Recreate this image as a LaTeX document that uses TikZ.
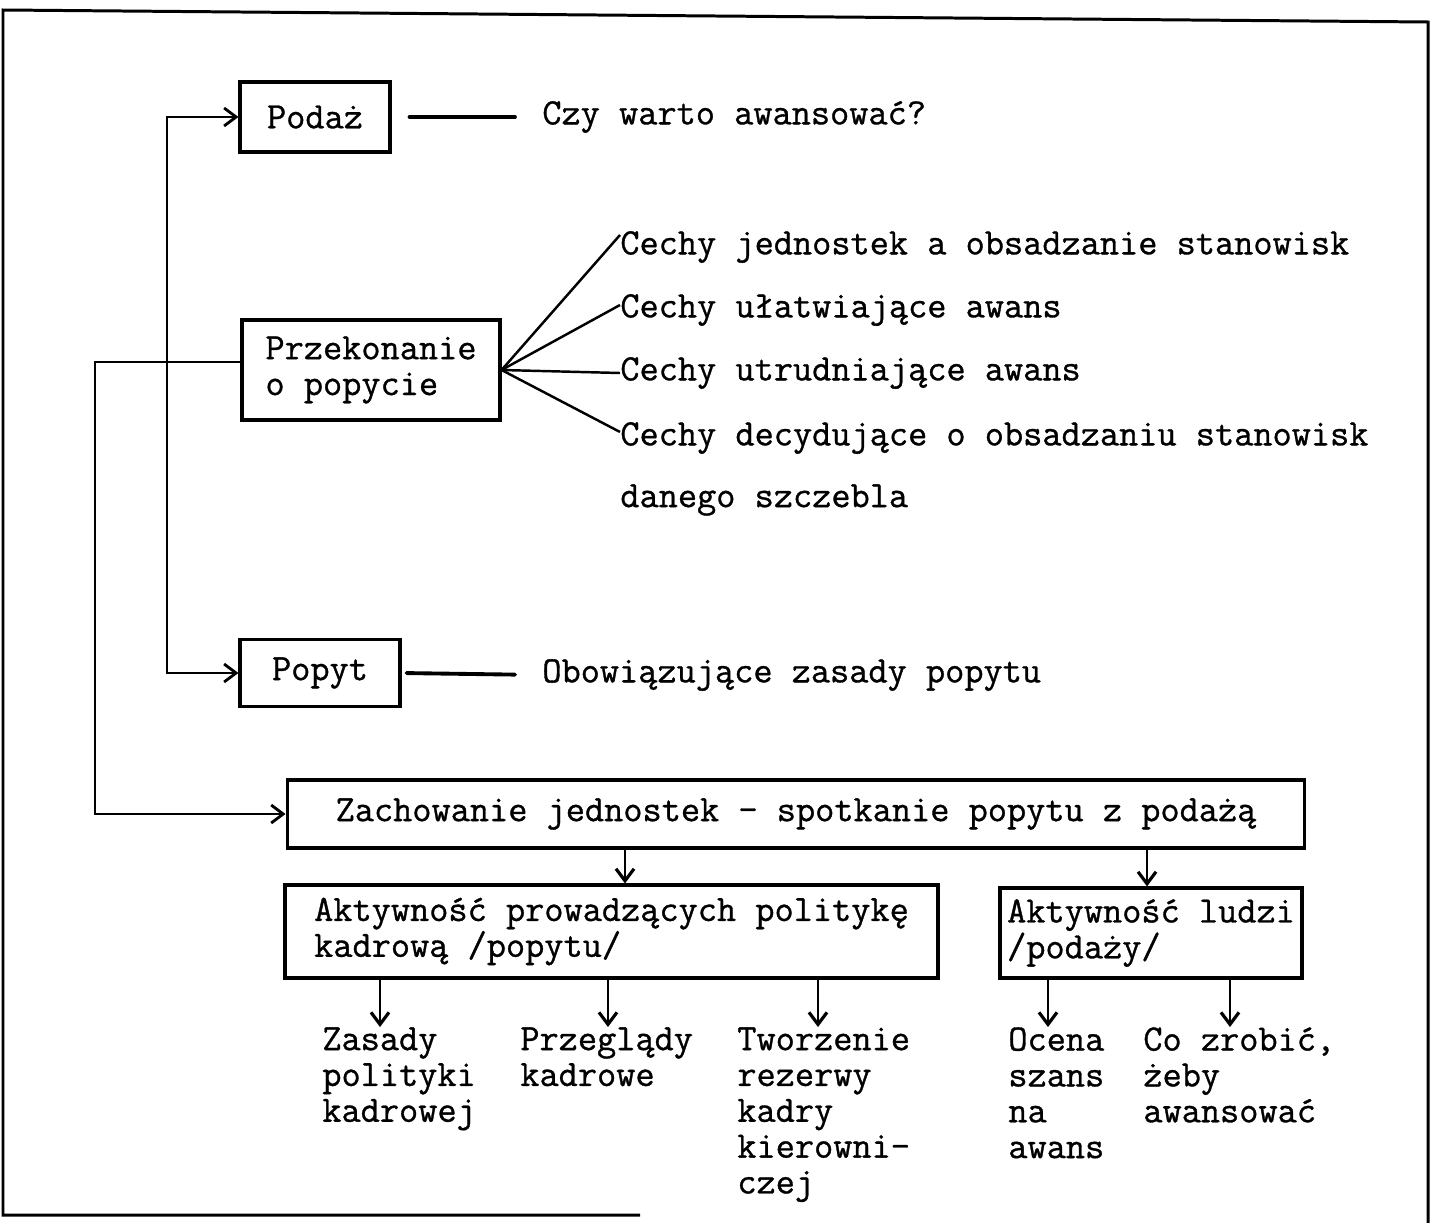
\documentclass[tikz,border=0pt]{standalone}
\usepackage{fontspec}
\usepackage{tikz}
\usetikzlibrary{arrows.meta, calc}
\newfontfamily\typewriter[FakeBold=0.9]{Latin Modern Mono}
\tikzset{
  box/.style={draw, line width=1.8pt, inner sep=0pt, align=left},
  lbl/.style={inner sep=0pt, align=left},
  arr/.style={line width=1.4pt, -{Straight Barb[length=2.4mm, width=3.6mm, line width=1.8pt]}},
  feed/.style={line width=1.1pt},
  frame/.style={line width=1.7pt}
}

\begin{document}
\begin{tikzpicture}[x=0.02cm, y=-0.02cm, font=\typewriter\fontsize{21.2}{20.4}\selectfont]
    \useasboundingbox (0,0) rectangle (1433,1223);

    % Frame
    \draw[frame] (640,1215) -- (3,1215) -- (3,10) -- (1428,22) -- (1428,1223);

    % Boxes
    \node[box, minimum width=3.0cm, minimum height=1.4cm] (podaz) at (315,117) {Podaż};
    \node[box, minimum width=5.16cm, minimum height=2.0cm] (przek) at (371,370) {Przekonanie\\o popycie};
    \node[box, minimum width=3.2cm, minimum height=1.34cm] (popyt) at (320,673) {Popyt};
    \node[box, minimum width=20.36cm, minimum height=1.36cm] (zach) at (796,814) {Zachowanie jednostek - spotkanie popytu z podażą};
    \node[box, minimum width=13.06cm, minimum height=1.86cm] (aktpop) at (611.5,931.5) {Aktywność prowadzących politykę\\kadrową /popytu/};
    \node[box, minimum width=6.04cm, minimum height=1.8cm] (aktpod) at (1151,933) {Aktywność ludzi\\/podaży/};

    % Side texts
    \node[lbl, anchor=west] (czy) at (542,117) {Czy warto awansować?};
    \node[lbl, anchor=west] (obow) at (542,675) {Obowiązujące zasady popytu};
    \node[lbl, anchor=west] (c1) at (620,247) {Cechy jednostek a obsadzanie stanowisk};
    \node[lbl, anchor=west] (c2) at (620,310) {Cechy ułatwiające awans};
    \node[lbl, anchor=west] (c3) at (620,373) {Cechy utrudniające awans};
    \node[lbl, anchor=west] (c4) at (620,438) {Cechy decydujące o obsadzaniu stanowisk};
    \node[lbl, anchor=west] (c5) at (620,500) {danego szczebla};

    % Bottom texts
    \node[lbl, anchor=north west] (zasady) at (322,1027) {Zasady\\polityki\\kadrowej};
    \node[lbl, anchor=north west] (przegl) at (520,1027) {Przeglądy\\kadrowe};
    \node[lbl, anchor=north west] (tworz) at (737,1027) {Tworzenie\\rezerwy\\kadry\\kierowni-\\czej};
    \node[lbl, anchor=north west] (ocena) at (1008,1027) {Ocena\\szans\\na\\awans};
    \node[lbl, anchor=north west] (cozrob) at (1143,1027) {Co zrobić,\\żeby\\awansować};

    % Feedback lines
    \coordinate (spine) at (167,400);
    \coordinate (outer) at (95,600);
    \draw[feed, {Straight Barb[length=2.4mm, width=3.6mm, line width=1.6pt]}-{Straight Barb[length=2.4mm, width=3.6mm, line width=1.6pt]}]
      (podaz.west) -| (spine) |- (popyt.west);
    \draw[feed, -{Straight Barb[length=2.4mm, width=3.6mm, line width=1.6pt]}]
      ([yshift=0.16cm]przek.west) -| (outer) |- (zach.west);

    % Plain links
    \draw[line width=2.2pt, line cap=round, shorten <=0.36cm, shorten >=0.54cm] (podaz.east) -- (czy.west);
    \draw[line width=2.2pt, line cap=round, shorten <=0.1cm, shorten >=0.54cm] (popyt.east) -- (obow.west);

    % Fan
    \draw[line width=1.4pt] (przek.east) -- ([yshift=0.24cm]c1.west);
    \draw[line width=1.4pt] (przek.east) -- ([yshift=0.1cm]c2.west);
    \draw[line width=1.4pt] (przek.east) -- (c3.west);
    \draw[line width=1.4pt] (przek.east) -- ([yshift=0.12cm]c4.west);

    % Arrows down
    \draw[arr] ([xshift=0.27cm]zach.south -| aktpop.north) -- ([xshift=0.27cm]aktpop.north);
    \draw[arr] ([xshift=-0.08cm]zach.south -| aktpod.north) -- ([xshift=-0.08cm]aktpod.north);
    \draw[arr] ([xshift=1.16cm]zasady.north west |- aktpop.south) -- ([xshift=1.16cm]zasady.north west);
    \draw[arr] ([xshift=1.76cm]przegl.north west |- aktpop.south) -- ([xshift=1.76cm]przegl.north west);
    \draw[arr] ([xshift=1.62cm]tworz.north west |- aktpop.south) -- ([xshift=1.62cm]tworz.north west);
    \draw[arr] ([xshift=0.8cm]ocena.north west |- aktpod.south) -- ([xshift=0.8cm]ocena.north west);
    \draw[arr] ([xshift=1.74cm]cozrob.north west |- aktpod.south) -- ([xshift=1.74cm]cozrob.north west);
\end{tikzpicture}
\end{document}
